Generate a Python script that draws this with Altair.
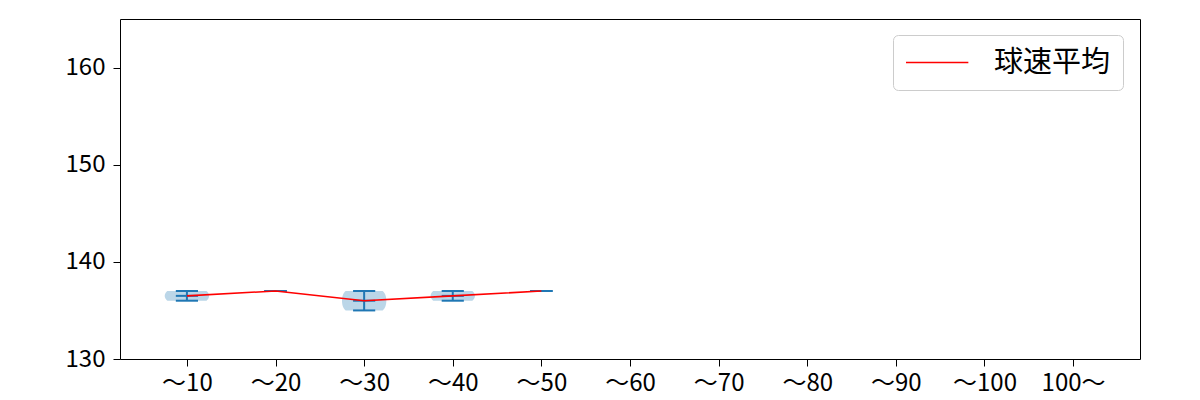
import altair as alt
import pandas as pd

# ---- data ----
bins = ["〜10", "〜20", "〜30", "〜40", "〜50", "〜60", "〜70", "〜80", "〜90", "〜100", "100〜"]
speeds_10 = [136, 137]
speeds_20 = [137]
speeds_30 = [135, 136, 137]
speeds_40 = [136, 137]
speeds_50 = [137]
speeds_by_bin = {"〜10": speeds_10, "〜20": speeds_20, "〜30": speeds_30,
                 "〜40": speeds_40, "〜50": speeds_50}
legend_label = "球速平均"
y_ticks = [130, 140, 150, 160]
y_domain = [130, 165]

rows = []
for i, b in enumerate(bins):
    for s in speeds_by_bin.get(b, []):
        rows.append({"pos": i + 1, "bin": b, "speed": s})
df = pd.DataFrame(rows)

FONT = "Noto Sans CJK JP"
BLUE = "#1f77b4"

label_expr = "[" + ",".join("'" + b + "'" for b in bins) + "][datum.value - 1]"
x_scale = alt.Scale(domain=[0.245, len(bins) + 0.755], nice=False, zero=False)
y_scale = alt.Scale(domain=y_domain, nice=False, zero=False)
x_axis = alt.Axis(values=list(range(1, len(bins) + 1)), labelExpr=label_expr, title=None,
                  grid=False, domain=False, tickSize=7, tickColor="black", tickWidth=1,
                  labelFontSize=24, labelColor="black", labelPadding=5, labelFont=FONT,
                  labelAngle=0)
y_axis = alt.Axis(values=y_ticks, title=None, grid=False, domain=False, tickSize=7,
                  tickColor="black", tickWidth=1, labelFontSize=24, labelColor="black",
                  labelPadding=8, labelFont=FONT)


def X(f):
    return alt.X(f, scale=x_scale, axis=x_axis)


def Y(f):
    return alt.Y(f, scale=y_scale, axis=y_axis)


base = alt.Chart(df)

violin = (
    base.transform_joinaggregate(n="count()", smin="min(speed)", smax="max(speed)", groupby=["pos"])
    .transform_filter("datum.n >= 2")
    .transform_density("speed", groupby=["pos", "smin", "smax"], bandwidth=0.6, steps=201,
                       as_=["value", "density"])
    .transform_filter("datum.value >= datum.smin - 1e-9 && datum.value <= datum.smax + 1e-9")
    .transform_joinaggregate(dmax="max(density)", groupby=["pos"])
    .transform_calculate(lo="datum.pos - 0.25 * datum.density / datum.dmax",
                         hi="datum.pos + 0.25 * datum.density / datum.dmax")
    .mark_area(orient="horizontal", color=BLUE, opacity=0.3)
    .encode(y=Y("value:Q"), x=X("lo:Q"), x2="hi:Q", detail="pos:N")
)

stats = (
    base.transform_aggregate(smin="min(speed)", smax="max(speed)", smean="mean(speed)",
                             groupby=["pos"])
    .transform_calculate(c0="datum.pos - 0.125", c1="datum.pos + 0.125",
                         series="'" + legend_label + "'")
)

cap_min = stats.mark_rule(color=BLUE, strokeWidth=2).encode(x=X("c0:Q"), x2="c1:Q", y=Y("smin:Q"))
cap_max = stats.mark_rule(color=BLUE, strokeWidth=2).encode(x=X("c0:Q"), x2="c1:Q", y=Y("smax:Q"))
cap_mean = stats.mark_rule(color=BLUE, strokeWidth=2).encode(x=X("c0:Q"), x2="c1:Q", y=Y("smean:Q"))
vbar = stats.mark_rule(color=BLUE, strokeWidth=2).encode(x=X("pos:Q"), y=Y("smin:Q"), y2="smax:Q")

mean_line = stats.mark_line(strokeWidth=1.6).encode(
    x=X("pos:Q"), y=Y("smean:Q"),
    color=alt.Color("series:N", scale=alt.Scale(domain=[legend_label], range=["red"]),
                    legend=alt.Legend(title=None, orient="none", legendX=773, legendY=16,
                                      symbolType="M-1,0H3.3", symbolSize=841,
                                      symbolStrokeWidth=1.6, labelFontSize=29,
                                      labelFont=FONT, labelColor="black", labelOffset=58,
                                      padding=12, strokeColor="#cccccc", cornerRadius=5,
                                      fillColor="white")),
)

chart = (
    alt.layer(violin, cap_min, cap_max, cap_mean, vbar, mean_line)
    .properties(width=1020, height=340,
                autosize=alt.AutoSizeParams(type="none"),
                padding={"left": 112, "top": 11, "right": 52, "bottom": 41})
    .configure(font=FONT)
    .configure_view(stroke="black", strokeWidth=1)
)

chart.save("out.html", embed_options={"renderer": "svg", "actions": False})
